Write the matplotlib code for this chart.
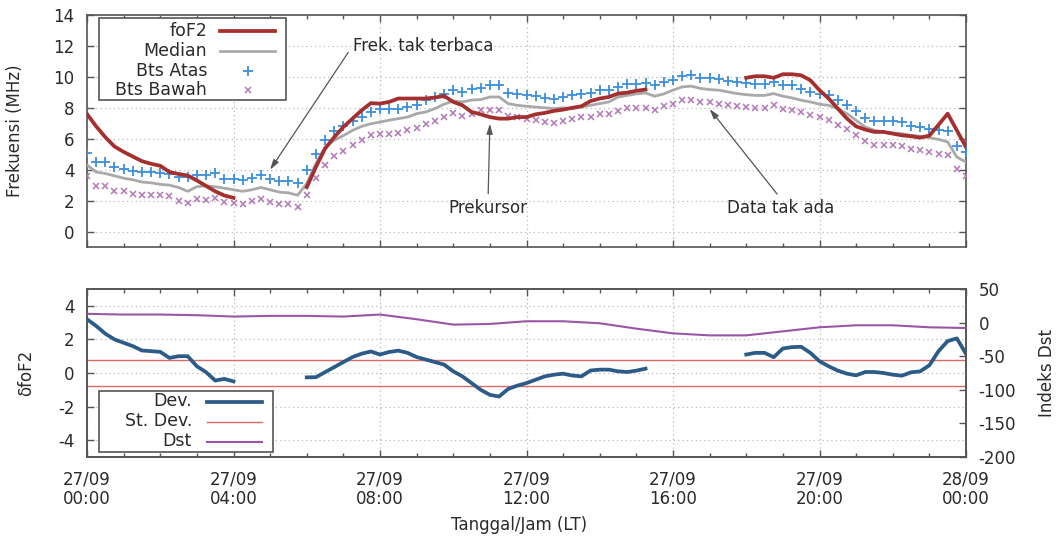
import numpy as np
import matplotlib
matplotlib.use("Agg")
import matplotlib.pyplot as plt
from matplotlib.ticker import FixedLocator, MultipleLocator
from matplotlib.lines import Line2D
from matplotlib.patches import Rectangle

plt.rcParams['font.family'] = ['DejaVu Sans']
plt.rcParams['axes.unicode_minus'] = False

nan = np.nan

# ---------------- data (15-minute steps, 27/09 00:00 -> 28/09 00:00) ----------------
time_hours = np.arange(0, 24.01, 0.25)

fof2 = [
    7.6, 6.8, 6.1, 5.5, 5.15, 4.85, 4.55, 4.38, 4.25, 3.85, 3.72, 3.62, 3.3, 2.95, 2.6, 2.33,
    2.18, nan, nan, nan, nan, nan, nan, nan, 2.87,
    4.17, 5.36, 6.1, 6.76, 7.3, 7.84, 8.3, 8.27, 8.38, 8.6, 8.6, 8.6, 8.6, 8.66, 8.77, 8.38,
    8.16, 7.73, 7.58, 7.4, 7.3, 7.3, 7.4, 7.4,
    7.58, 7.67, 7.8, 7.88, 8.0, 8.1, 8.44, 8.6, 8.7, 8.92, 8.98, 9.1, 9.18,
    nan, nan, nan, nan, nan, nan, nan, nan, nan, nan, 9.94,
    10.04, 10.04, 9.94, 10.17, 10.17, 10.1, 9.78, 9.14, 8.6, 7.95, 7.3, 6.8, 6.59, 6.44, 6.44,
    6.33, 6.22, 6.16, 6.07, 6.2, 6.9, 7.62, 6.54, 5.46]

median = [
    4.3, 3.85, 3.75, 3.6, 3.45, 3.35, 3.2, 3.15, 3.05, 3.0, 2.85, 2.6, 2.9, 2.95, 2.9, 2.8,
    2.7, 2.6, 2.7, 2.85, 2.7, 2.55, 2.5, 2.35, 3.1,
    4.4, 5.46, 5.9, 6.2, 6.54, 6.8, 6.97, 7.08, 7.2, 7.3, 7.4, 7.62, 7.73, 7.95, 8.23, 8.44,
    8.38, 8.5, 8.53, 8.7, 8.7, 8.27, 8.16, 8.1,
    8.05, 8.0, 7.95, 8.0, 7.95, 8.05, 8.16, 8.27, 8.38, 8.7, 8.8, 8.9, 8.96, 8.75, 8.9, 9.14,
    9.35, 9.4, 9.25, 9.18, 9.14, 9.03, 8.92, 8.85,
    8.8, 8.8, 8.92, 8.75, 8.64, 8.49, 8.38, 8.23, 8.16, 7.95, 7.62, 7.19, 6.76, 6.54, 6.44,
    6.37, 6.33, 6.22, 6.16, 6.07, 5.96, 5.79, 4.82, 4.49]

bts_atas = [
    5.1, 4.5, 4.5, 4.2, 4.05, 3.9, 3.88, 3.85, 3.8, 3.75, 3.55, 3.5, 3.68, 3.65, 3.8, 3.4,
    3.4, 3.3, 3.47, 3.65, 3.4, 3.28, 3.28, 3.15, 3.95,
    5.0, 5.9, 6.5, 6.8, 7.15, 7.4, 7.7, 7.9, 7.9, 7.95, 8.05, 8.2, 8.5, 8.7, 8.9, 9.15,
    9.0, 9.2, 9.25, 9.45, 9.45, 8.95, 8.9, 8.85,
    8.77, 8.66, 8.6, 8.7, 8.8, 8.9, 8.98, 9.14, 9.14, 9.35, 9.57, 9.57, 9.63, 9.5, 9.68, 9.78,
    10.06, 10.1, 9.9, 9.9, 9.83, 9.72, 9.68, 9.6,
    9.57, 9.57, 9.68, 9.5, 9.46, 9.24, 9.03, 8.92, 8.81, 8.49, 8.2, 7.78, 7.34, 7.13, 7.13,
    7.13, 7.08, 6.8, 6.76, 6.6, 6.54, 6.48, 5.5, 5.14]

bts_bawah = [
    3.58, 2.97, 2.97, 2.6, 2.6, 2.43, 2.39, 2.39, 2.34, 2.28, 2.0, 1.84, 2.13, 2.02, 2.17, 1.89,
    1.84, 1.8, 1.95, 2.1, 1.89, 1.8, 1.8, 1.58, 2.39,
    3.48, 4.28, 4.87, 5.2, 5.57, 5.9, 6.22, 6.33, 6.28, 6.37, 6.54, 6.72, 6.93, 7.15, 7.4, 7.67,
    7.5, 7.62, 7.84, 7.88, 7.88, 7.5, 7.4, 7.3,
    7.19, 7.08, 7.04, 7.13, 7.26, 7.41, 7.41, 7.58, 7.62, 7.78, 8.0, 8.0, 8.0, 7.88, 8.1, 8.27,
    8.49, 8.53, 8.38, 8.38, 8.23, 8.16, 8.12, 8.08,
    8.01, 8.01, 8.16, 7.95, 7.88, 7.73, 7.52, 7.41, 7.24, 6.87, 6.65, 6.22, 5.83, 5.57, 5.57,
    5.57, 5.5, 5.31, 5.25, 5.14, 5.03, 4.92, 4.02, 3.56]

deviation = [
    3.2, 2.8, 2.34, 2.0, 1.8, 1.6, 1.34, 1.3, 1.26, 0.9, 1.0, 1.0, 0.4, 0.05, -0.45, -0.35,
    -0.5, nan, nan, nan, nan, nan, nan, nan, -0.26,
    -0.25, 0.05, 0.35, 0.65, 0.95, 1.15, 1.28, 1.1, 1.25, 1.33, 1.2, 0.95, 0.8, 0.65, 0.5, 0.1,
    -0.2, -0.6, -1.0, -1.3, -1.4, -0.95, -0.75, -0.6,
    -0.4, -0.2, -0.1, -0.04, -0.15, -0.2, 0.15, 0.2, 0.2, 0.1, 0.06, 0.14, 0.26,
    nan, nan, nan, nan, nan, nan, nan, nan, nan, nan, 1.1,
    1.2, 1.2, 0.94, 1.46, 1.54, 1.56, 1.2, 0.7, 0.4, 0.14, -0.04, -0.14, 0.06, 0.06, 0.0,
    -0.1, -0.16, 0.04, 0.1, 0.46, 1.3, 1.9, 2.06, 1.14]

stdev_upper = 0.75
stdev_lower = -0.8

dst_hours = np.arange(0, 25, 1)
dst = [13, 12, 12, 11, 9, 10, 10, 9, 12, 5, -3, -2, 2, 2, -1, -9, -16, -19, -19, -13, -7,
       -4, -4, -7, -8]

for arr in (fof2, median, bts_atas, bts_bawah, deviation):
    assert len(arr) == len(time_hours), len(arr)

xtick_pos = [0, 4, 8, 12, 16, 20, 24]
xtick_labels = ["27/09\n00:00", "27/09\n04:00", "27/09\n08:00", "27/09\n12:00",
                "27/09\n16:00", "27/09\n20:00", "28/09\n00:00"]

# ---------------- styling ----------------
C_FOF2 = '#a3302f'
C_MED = '#a9a9a9'
C_ATAS = '#3d8fdc'
C_BAWAH = '#b278b8'
C_DEV = '#2c5b88'
C_STD = '#d86a6a'
C_DST = '#9a55a6'
C_TXT = '#2a2a2a'
C_SPINE = '#555555'
GRID = dict(color='#b8b8b8', linestyle=(0, (1, 2.5)), linewidth=0.9)

W, H = 1057, 541
fig = plt.figure(figsize=(W/100, H/100), dpi=100)
ax1 = fig.add_axes([87/W, 1-247/H, 879/W, 232/H])
ax2 = fig.add_axes([87/W, 1-457/H, 879/W, 168/H])
ax3 = ax2.twinx()

for a in (ax1, ax2, ax3):
    for s in a.spines.values():
        s.set_color(C_SPINE)
        s.set_linewidth(1.2)

# ---- top panel ----
atas_style = dict(linestyle='none', marker='+', markersize=7, mew=1.3, color=C_ATAS)
bawah_style = dict(linestyle='none', marker='x', markersize=5, mew=1.1, color=C_BAWAH)
med_style = dict(color=C_MED, lw=2.0)
fof2_style = dict(color=C_FOF2, lw=2.7)

ax1.plot(time_hours, bts_atas, zorder=3, **atas_style)
ax1.plot(time_hours, bts_bawah, zorder=3, **bawah_style)
ax1.plot(time_hours, median, zorder=4, **med_style)
ax1.plot(time_hours, fof2, zorder=5, **fof2_style)

ax1.set_xlim(0, 24)
ax1.set_ylim(-1, 14)
ax1.xaxis.set_major_locator(FixedLocator(xtick_pos))
ax1.xaxis.set_minor_locator(MultipleLocator(1))
ax1.yaxis.set_major_locator(FixedLocator([0, 2, 4, 6, 8, 10, 12, 14]))
ax1.set_xticklabels([])
ax1.tick_params(axis='both', which='both', direction='in', top=True, right=True,
                colors=C_SPINE, labelcolor=C_TXT)
ax1.tick_params(axis='both', which='major', length=5, width=1)
ax1.tick_params(axis='both', which='minor', length=3, width=1)
ax1.tick_params(axis='y', labelsize=12, pad=9)
ax1.grid(True, which='major', **GRID)
ax1.set_ylabel('Frekuensi (MHz)', fontsize=12, color=C_TXT)
ax1.yaxis.set_label_coords((24-87)/879, 0.5)

def arrow_kw(rel):
    return dict(arrowstyle='-|>,head_length=0.5,head_width=0.15', color='#555555', lw=0.9,
                shrinkA=2, shrinkB=0, relpos=rel)

ax1.annotate('Frek. tak terbaca', xy=(5.0, 4.0), xytext=(7.25, 12.0), ha='left', va='center',
             fontsize=12, color=C_TXT, arrowprops=arrow_kw((0.0, 0.5)), zorder=6)
ax1.annotate('Prekursor', xy=(11.0, 6.97), xytext=(10.95, 1.5), ha='center', va='center',
             fontsize=12, color=C_TXT, arrowprops=arrow_kw((0.5, 1.0)), zorder=6)
ax1.annotate('Data tak ada', xy=(17.0, 7.92), xytext=(18.95, 1.52), ha='center', va='center',
             fontsize=12, color=C_TXT, arrowprops=arrow_kw((0.5, 1.0)), zorder=6)

# ---- bottom panel ----
std_style = dict(color=C_STD, lw=1.0)
dev_style = dict(color=C_DEV, lw=2.7)
dst_style = dict(color=C_DST, lw=1.5)
ax2.axhline(stdev_upper, zorder=2, **std_style)
ax2.axhline(stdev_lower, zorder=2, **std_style)
ax2.plot(time_hours, deviation, zorder=4, **dev_style)
ax3.plot(dst_hours, dst, zorder=4, **dst_style)

ax2.set_xlim(0, 24)
ax2.set_ylim(-5, 5)
ax3.set_ylim(-200, 50)
ax2.xaxis.set_major_locator(FixedLocator(xtick_pos))
ax2.xaxis.set_minor_locator(MultipleLocator(1))
ax2.set_xticklabels(xtick_labels, fontsize=12, color=C_TXT, linespacing=1.1)
ax2.yaxis.set_major_locator(FixedLocator([-4, -2, 0, 2, 4]))
ax3.yaxis.set_major_locator(FixedLocator([-200, -150, -100, -50, 0, 50]))
ax2.tick_params(axis='both', which='both', direction='in', top=True,
                colors=C_SPINE, labelcolor=C_TXT)
ax2.tick_params(axis='both', which='major', length=5, width=1)
ax2.tick_params(axis='both', which='minor', length=3, width=1)
ax2.tick_params(axis='y', labelsize=12, pad=9)
ax2.tick_params(axis='x', pad=10)
ax3.tick_params(axis='y', direction='in', length=5, width=1, colors=C_SPINE,
                labelcolor=C_TXT, labelsize=12, pad=9)
ax2.grid(True, which='major', **GRID)
ax2.set_ylabel('\u03b4foF2', fontsize=12, color=C_TXT)
ax2.yaxis.set_label_coords((35-87)/879, 0.5)
ax3.set_ylabel('Indeks Dst', fontsize=12, color=C_TXT)
ax3.yaxis.set_label_coords((1038-87)/879, 0.5)
ax2.set_xlabel('Tanggal/Jam (LT)', fontsize=12, color=C_TXT)
ax2.xaxis.set_label_coords(0.4918, (457-516)/168)

# ---- gnuplot-style keys (labels right-aligned, sample on the right) ----
def px(x, y):
    return x / W, 1 - y / H

def draw_key(box, rows, text_right, line_x0, line_x1):
    x0, y0, x1, y1 = box
    fx0, fy1 = px(x0, y1)
    fx1, fy0 = px(x1, y0)
    fig.patches.append(Rectangle((fx0, fy1), fx1 - fx0, fy0 - fy1, transform=fig.transFigure,
                                 facecolor='white', edgecolor=C_SPINE, lw=1.2, zorder=10))
    for label, yc, kind, style in rows:
        tx, ty = px(text_right, yc)
        fig.text(tx, ty, label, ha='right', va='center', fontsize=12.5, color=C_TXT, zorder=11)
        if kind == 'line':
            a, b = px(line_x0, yc)
            c, _ = px(line_x1, yc)
            fig.lines.append(Line2D([a, c], [b, b], transform=fig.transFigure, zorder=11, **style))
        else:
            a, b = px((line_x0 + line_x1) / 2, yc)
            fig.lines.append(Line2D([a], [b], transform=fig.transFigure, zorder=11, **style))

draw_key((99, 18, 286, 100),
         [('foF2', 31, 'line', fof2_style),
          ('Median', 50.5, 'line', med_style),
          ('Bts Atas', 70.5, 'point', atas_style),
          ('Bts Bawah', 90, 'point', bawah_style)],
         207, 220, 275)

draw_key((99, 391, 273, 452),
         [('Dev.', 401.5, 'line', dev_style),
          ('St. Dev.', 421.5, 'line', std_style),
          ('Dst', 441.5, 'line', dst_style)],
         192, 207, 262)

fig.savefig('out.png', dpi=100)
